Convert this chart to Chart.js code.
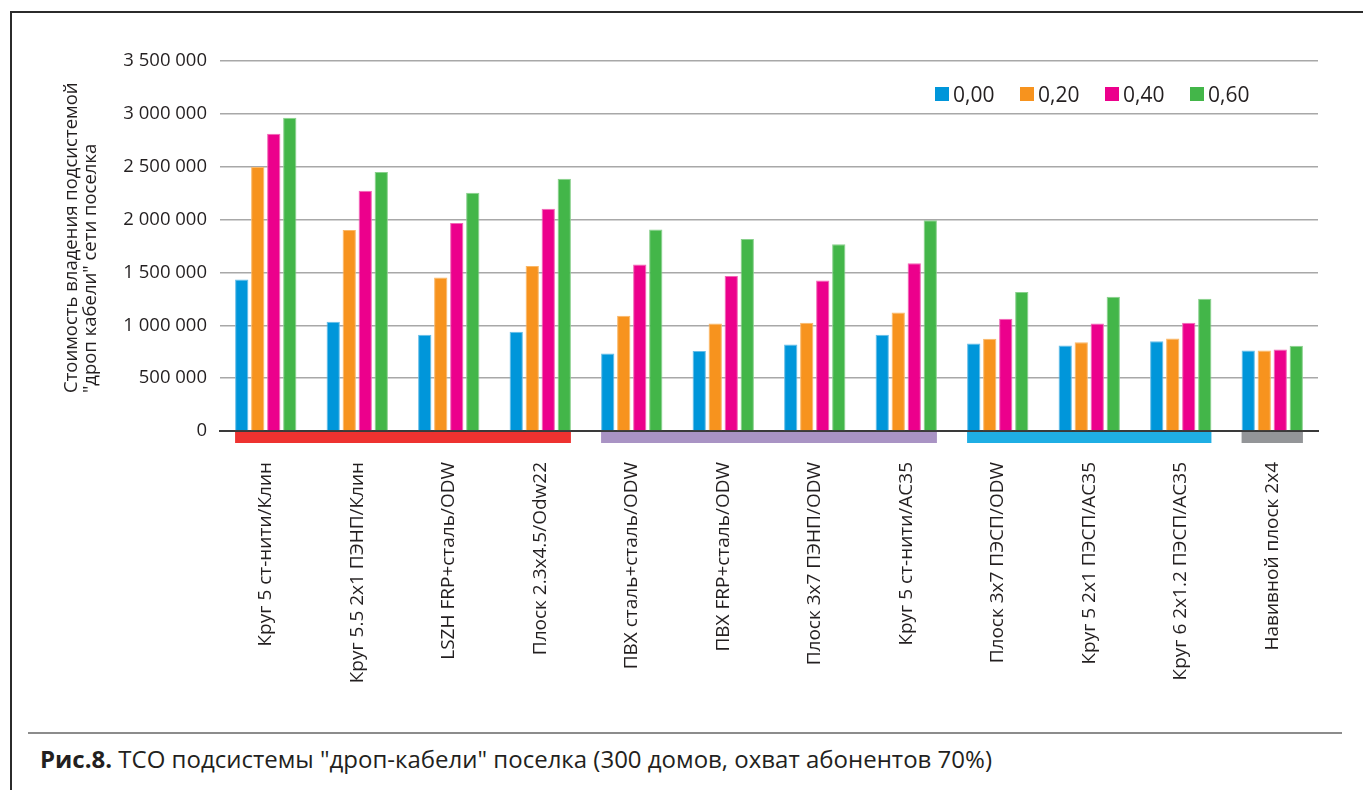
<!DOCTYPE html>
<html lang="ru">
<head>
<meta charset="utf-8">
<title>TCO дроп-кабели</title>
<script src="https://cdn.jsdelivr.net/npm/chart.js@4.4.1/dist/chart.umd.min.js"></script>
<style>
  html, body { margin: 0; padding: 0; background: #fff; }
  body { width: 1363px; height: 790px; position: relative; overflow: hidden; font-family: "Open Sans", sans-serif; color: #231f20; }
  .frame-left { position: absolute; left: 10px; top: 11px; width: 1.5px; height: 779px; background: #2b2b2b; }
  .frame-top { position: absolute; left: 10px; top: 11px; width: 1353px; height: 1.5px; background: #2b2b2b; }
  #wrap { position: absolute; left: 0; top: 0; width: 1363px; height: 720px; }
  #legend { position: absolute; left: 935px; top: 80px; display: flex; font-size: 21px; line-height: 28px; }
  #legend .item { display: flex; align-items: center; width: 85px; }
  #legend .box { width: 14px; height: 14px; margin-right: 4px; }
  .rule { position: absolute; left: 28px; top: 732px; width: 1314px; height: 2px; background: #8c8c8c; }
  .caption { position: absolute; left: 40px; top: 741px; font-size: 24px; line-height: 36px; white-space: nowrap; }
  .caption b { font-weight: 700; }
</style>
</head>
<body>
<div class="frame-left"></div>
<div class="frame-top"></div>
<div id="wrap"><canvas id="chart"></canvas></div>
<div id="legend"></div>
<div class="rule"></div>
<div class="caption"><b>Рис.8.</b> ТСО подсистемы "дроп-кабели" поселка (300 домов, охват абонентов 70%)</div>

<script>
// cable types along the x axis
var categories = [
    'Круг 5 ст-нити/Клин',
    'Круг 5.5 2x1 ПЭНП/Клин',
    'LSZH FRP+сталь/ODW',
    'Плоск 2.3x4.5/Odw22',
    'ПВХ сталь+сталь/ODW',
    'ПВХ FRP+сталь/ODW',
    'Плоск 3x7 ПЭНП/ODW',
    'Круг 5 ст-нити/AC35',
    'Плоск 3x7 ПЭСП/ODW',
    'Круг 5 2x1 ПЭСП/AC35',
    'Круг 6 2x1.2 ПЭСП/AC35',
    'Навивной плоск 2x4'
];

var seriesNames = ['0,00', '0,20', '0,40', '0,60'];

var s000 = [1432000, 1033000, 910000, 938000, 734000, 756000, 819000, 910000, 828000, 809000, 850000, 762000];
var s020 = [2497000, 1902000, 1451000, 1561000, 1090000, 1017000, 1024000, 1121000, 872000, 840000, 875000, 762000];
var s040 = [2811000, 2273000, 1968000, 2103000, 1574000, 1467000, 1423000, 1587000, 1061000, 1017000, 1024000, 771000];
var s060 = [2962000, 2449000, 2254000, 2386000, 1905000, 1817000, 1766000, 1993000, 1316000, 1269000, 1250000, 806000];

var yMax = 3500000;
var yStep = 500000;

var yTitle = ['Стоимость владения подсистемой', '"дроп кабели" сети поселка'];

// cable families: first and last category index of each group
var groupFirst = [0, 4, 8, 11];
var groupLast = [3, 7, 10, 11];

var barColors = ['#0096da', '#f7931e', '#ec008c', '#43b649'];
var barEdges = ['#66bde8', '#fab766', '#f266b5', '#88d08c'];
var groupColors = ['#ee3230', '#a993c4', '#1faee4', '#939598'];

function fmt(v) {
    if (v === 0) return '0';
    return String(v).replace(/\B(?=(\d{3})+(?!\d))/g, ' ');
}

// coloured strip under the zero line for each cable family
var groupBands = {
    id: 'groupBands',
    afterDraw: function(chart) {
        var ctx = chart.ctx;
        var y0 = chart.scales.y.getPixelForValue(0);
        var first = chart.getDatasetMeta(0).data;
        var last = chart.getDatasetMeta(3).data;
        for (var g = 0; g < groupFirst.length; g++) {
            var a = first[groupFirst[g]];
            var b = last[groupLast[g]];
            var x1 = a.x - a.width / 2;
            var x2 = b.x + b.width / 2;
            ctx.save();
            ctx.fillStyle = groupColors[g];
            ctx.fillRect(x1, y0 + 1, x2 - x1, 11);
            ctx.restore();
        }
    }
};

// two-line y title, left aligned from the lower end
var yTitlePlugin = {
    id: 'yTitle',
    afterDraw: function(chart) {
        var ctx = chart.ctx;
        ctx.save();
        ctx.fillStyle = '#231f20';
        ctx.font = '18.5px "Open Sans"';
        ctx.textAlign = 'left';
        ctx.textBaseline = 'middle';
        for (var i = 0; i < yTitle.length; i++) {
            ctx.save();
            ctx.translate(72 + i * 18.5, 393);
            ctx.rotate(-Math.PI / 2);
            ctx.fillText(yTitle[i], 0, 0);
            ctx.restore();
        }
        ctx.restore();
    }
};

var series = [s000, s020, s040, s060];
var datasets = series.map(function(vals, i) {
    return {
        label: seriesNames[i],
        data: vals,
        backgroundColor: barColors[i],
        borderColor: barEdges[i],
        borderWidth: 1,
        borderSkipped: 'bottom',
        categoryPercentage: 0.70,
        barPercentage: 0.83
    };
});

var ctx = document.getElementById('chart').getContext('2d');
var myChart = new Chart(ctx, {
    type: 'bar',
    data: { labels: categories, datasets: datasets },
    options: {
        responsive: true,
        maintainAspectRatio: false,
        animation: false,
        layout: { padding: { left: 0, right: 45, top: 61, bottom: 0 } },
        plugins: {
            legend: { display: false },
            tooltip: { enabled: false }
        },
        scales: {
            x: {
                grid: { display: false },
                border: { display: true, color: '#3a3a3a', width: 2 },
                ticks: {
                    autoSkip: false,
                    minRotation: 90,
                    maxRotation: 90,
                    padding: 23,
                    color: '#231f20',
                    font: { family: 'Open Sans', size: 19 }
                },
                afterFit: function(scale) { scale.height = 289; }
            },
            y: {
                min: 0,
                max: yMax,
                grid: {
                    drawTicks: false,
                    color: function(c) { return c.tick && c.tick.value === 0 ? '#3a3a3a' : '#a8a8a8'; },
                    lineWidth: 1.5
                },
                border: { display: false },
                ticks: {
                    stepSize: yStep,
                    padding: 13,
                    color: '#231f20',
                    font: { family: 'Open Sans', size: 18.5 },
                    callback: function(v) { return fmt(v); }
                },
                afterFit: function(scale) { scale.width = 220; }
            }
        }
    },
    plugins: [groupBands, yTitlePlugin]
});

// legend built from the series names
var legend = document.getElementById('legend');
seriesNames.forEach(function(name, i) {
    var item = document.createElement('div');
    item.className = 'item';
    var box = document.createElement('span');
    box.className = 'box';
    box.style.background = barColors[i];
    var txt = document.createElement('span');
    txt.textContent = name;
    item.appendChild(box);
    item.appendChild(txt);
    legend.appendChild(item);
});
</script>
</body>
</html>
